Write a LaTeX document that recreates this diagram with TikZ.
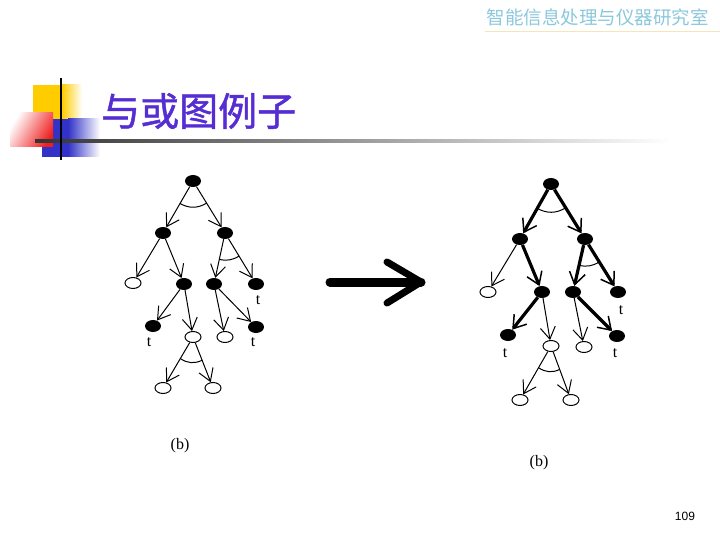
\documentclass[tikz,border=0pt]{standalone}
\usepackage{fontspec}
\setmainfont{Liberation Serif}
\newfontfamily\cjk{Noto Sans CJK SC}
\newfontfamily\cjktitle[FakeBold=1.2]{Noto Sans CJK SC}
\newfontfamily\numfont{Liberation Sans}
\usetikzlibrary{shapes.geometric,arrows.meta,calc}
\definecolor{titleblue}{RGB}{85,45,210}
\definecolor{headblue}{RGB}{140,200,220}
\definecolor{headline}{RGB}{245,230,185}
\definecolor{decoyellow}{RGB}{255,204,0}
\definecolor{decored}{RGB}{240,30,30}
\definecolor{decoblue}{RGB}{50,50,200}
\tikzset{
  fnode/.style={ellipse,fill=black,minimum width=16pt,minimum height=12pt,inner sep=0pt},
  onode/.style={ellipse,draw,line width=1pt,fill=white,minimum width=16pt,minimum height=11pt,inner sep=0pt},
  tedge/.style={draw,line width=1pt,-{Straight Barb[length=12pt,width=15pt]}},
  bedge/.style={draw,line width=3.2pt,-{Straight Barb[length=12pt,width=16pt,line width=1.5pt]}},
  andarc/.style={draw,line width=1pt},
  tlabel/.style={font=\fontsize{16}{16}\selectfont,inner sep=0pt},
}
\begin{document}
\begin{tikzpicture}[x=1pt,y=-1pt]
\useasboundingbox (0,0) rectangle (720,540);
\fill[white] (0,0) rectangle (720,540);
% header
\node[anchor=east,text=headblue,font=\cjk\fontsize{18.5}{18.5}\selectfont,inner sep=0pt] (head) at (709,17) {智能信息处理与仪器研究室};
\draw[headline,line width=0.8pt] (485,31) -- (720,31);
% decoration
\fill[decoyellow] (33,85) rectangle (62,120);
\shade[left color=decoyellow,right color=white] (62,85) rectangle (82,120);
\fill[decoblue] (42,119) rectangle (68,157);
\shade[left color=decoblue,right color=white] (68,119) rectangle (100,157);
\shade[left color=white,right color=decored,shading angle=60] (10,113) rectangle (53,147);
\shade[left color=black!80,right color=white] (35,139.5) rectangle (670,142.5);
\draw[black,line width=2.5pt] (61,78) -- (61,160);
% title
\node[anchor=west,text=titleblue,font=\cjktitle\fontsize{39}{39}\selectfont,inner sep=0pt] (title) at (101,111) {与或图例子};
% left tree
\node[fnode] (L0) at (193,181) {};
\node[fnode] (L1) at (163,233) {};
\node[fnode] (L2) at (225,233) {};
\node[onode] (L3) at (133,283) {};
\node[fnode] (L4) at (184,284) {};
\node[fnode] (L5) at (214,284) {};
\node[fnode] (L6) at (256,284) {};
\node[fnode] (L7) at (153,326) {};
\node[onode] (L8) at (193,337) {};
\node[onode] (L9) at (225,337) {};
\node[fnode] (L10) at (256,327) {};
\node[onode] (L11) at (163,388) {};
\node[onode] (L12) at (213,388) {};
\path[tedge] (L0) -- (L1);
\path[tedge] (L0) -- (L2);
\path[tedge] (L1) -- (L3);
\path[tedge] (L1) -- (L4);
\path[tedge] (L2) -- (L5);
\path[tedge] (L2) -- (L6);
\path[tedge] (L4) -- (L7);
\path[tedge] (L4) -- (L8);
\path[tedge] (L5) -- (L9);
\path[tedge] (L5) -- (L10);
\path[tedge] (L8) -- (L11);
\path[tedge] (L8) -- (L12);
\draw[andarc] ($(L0)!26pt!(L1)$) to[bend right=30] ($(L0)!26pt!(L2)$);
\draw[andarc] ($(L2)!27pt!(L5)$) to[bend right=22] ($(L2)!27pt!(L6)$);
\draw[andarc] ($(L8)!25pt!(L11)$) to[bend right=30] ($(L8)!25pt!(L12)$);
\node[tlabel] (lt1) at (258,300) {t};
\node[tlabel] (lt2) at (149,342) {t};
\node[tlabel] (lt3) at (253,342) {t};
\node[tlabel] (lb) at (180,446) {(b)};
% big arrow
\coordinate (a1) at (330,282);
\coordinate (a2) at (421,282);
\draw[line width=9pt,line cap=round] (a1) -- (a2);
\draw[line width=7pt,line cap=round,line join=round] ($(a2)+(-34,-20)$) -- (a2) -- ($(a2)+(-34,21)$);
% right tree
\node[fnode] (R0) at (551,184) {};
\node[fnode] (R1) at (520,239) {};
\node[fnode] (R2) at (585,239) {};
\node[onode] (R3) at (488,292) {};
\node[fnode] (R4) at (542,292) {};
\node[fnode] (R5) at (573,292) {};
\node[fnode] (R6) at (618,292) {};
\node[fnode] (R7) at (508,335) {};
\node[onode] (R8) at (551,346) {};
\node[onode] (R9) at (584,347) {};
\node[fnode] (R10) at (617,336) {};
\node[onode] (R11) at (520,400) {};
\node[onode] (R12) at (571,400) {};
\path[bedge] (R0) -- (R1);
\path[bedge] (R0) -- (R2);
\path[tedge] (R1) -- (R3);
\path[bedge] (R1) -- (R4);
\path[bedge] (R2) -- (R5);
\path[bedge] (R2) -- (R6);
\path[bedge] (R4) -- (R7);
\path[tedge] (R4) -- (R8);
\path[tedge] (R5) -- (R9);
\path[bedge] (R5) -- (R10);
\path[tedge] (R8) -- (R11);
\path[tedge] (R8) -- (R12);
\draw[andarc] ($(R0)!28pt!(R1)$) to[bend right=30] ($(R0)!28pt!(R2)$);
\draw[andarc] ($(R2)!27pt!(R5)$) to[bend right=22] ($(R2)!27pt!(R6)$);
\draw[andarc] ($(R8)!25pt!(R11)$) to[bend right=30] ($(R8)!25pt!(R12)$);
\node[tlabel] (rt1) at (621,310) {t};
\node[tlabel] (rt2) at (505,353) {t};
\node[tlabel] (rt3) at (615,353) {t};
\node[tlabel] (rb) at (539,463) {(b)};
% page number
\node[font=\numfont\fontsize{12}{12}\selectfont,inner sep=0pt] (pg) at (685,516) {109};
\end{tikzpicture}
\end{document}
